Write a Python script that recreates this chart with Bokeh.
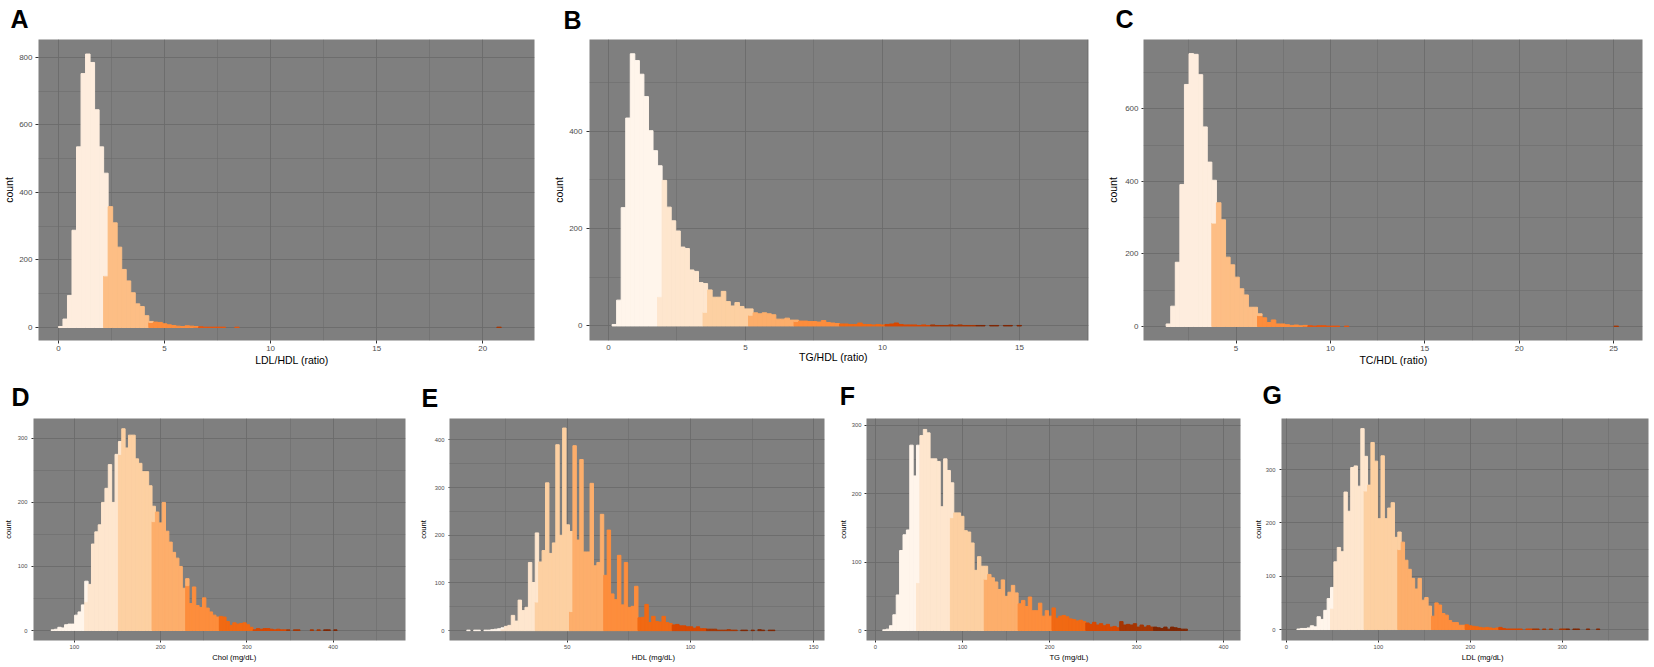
from bokeh.plotting import figure
from bokeh.models import ColumnDataSource, FixedTicker, Range1d, Title
from bokeh.layouts import row, column
from bokeh.embed import file_html
from bokeh.resources import INLINE

FONT = "Liberation Sans"
ORANGES9 = ["#FFF5EB", "#FEE6CE", "#FDD0A2", "#FDAE6B", "#FD8D3C",
            "#F16913", "#D94801", "#A63603", "#7F2704"]
ORANGES5 = ["#FEEDDE", "#FDBE85", "#FD8D3C", "#E6550D", "#A63603"]

# ---------------- A : LDL/HDL ----------------
A_title = "LDL/HDL (ratio)"
A_bin_lo, A_bin_w = 0.0, 0.213
A_counts = [3, 25, 95, 288, 535, 752, 810, 785, 645, 535,
            457, 358, 310, 238, 172, 138, 103, 70, 62, 35,
            18, 16, 15, 11, 8, 6, 4, 3, 5, 4,
            3, 2, 1, 1, 1, 1, 1, 0, 0, 1,
            0, 0, 0, 0, 0, 0, 0, 0, 0, 0,
            0, 0, 0, 0, 0, 0, 0, 0, 0, 0,
            0, 0, 0, 0, 0, 0, 0, 0, 0, 0,
            0, 0, 0, 0, 0, 0, 0, 0, 0, 0,
            0, 0, 0, 0, 0, 0, 0, 0, 0, 0,
            0, 0, 0, 0, 0, 0, 0, 1, 0, 0]
A_group_start = [10, 20, 30, 89]
A_group_share = [153, 15, 1, 0]
A_xticks, A_xminor = [0, 5, 10, 15, 20], [2.5, 7.5, 12.5, 17.5]
A_yticks, A_yminor = [0, 200, 400, 600, 800], [100, 300, 500, 700]

# ---------------- B : TG/HDL ----------------
B_title = "TG/HDL (ratio)"
B_bin_lo, B_bin_w = 0.134, 0.166
B_counts = [3, 53, 243, 427, 559, 545, 517, 471, 401, 360,
            329, 299, 244, 216, 195, 162, 159, 115, 112, 89,
            87, 74, 59, 59, 71, 50, 41, 48, 40, 35,
            35, 27, 25, 27, 25, 23, 14, 14, 16, 12,
            12, 10, 10, 9, 9, 8, 11, 7, 6, 5,
            4, 4, 3, 3, 6, 3, 3, 2, 3, 2,
            3, 4, 6, 3, 2, 2, 2, 1, 2, 1,
            2, 1, 1, 1, 2, 1, 2, 1, 1, 1,
            1, 1, 0, 1, 1, 0, 1, 1, 0, 1]
B_group_start = [10, 20, 30, 40, 50, 60, 70, 80]
B_group_share = [60, 28, 22, 9, 4, 3, 2, 1]
B_xticks, B_xminor = [0, 5, 10, 15], [2.5, 7.5, 12.5, 17.5]
B_yticks, B_yminor = [0, 200, 400], [100, 300, 500]

# ---------------- C : TC/HDL ----------------
C_title = "TC/HDL (ratio)"
C_bin_lo, C_bin_w = 1.30, 0.242
C_counts = [7, 56, 177, 391, 667, 752, 750, 694, 550, 453,
            403, 341, 294, 191, 170, 136, 104, 87, 53, 53,
            35, 24, 11, 18, 7, 7, 5, 3, 4, 2,
            3, 2, 1, 2, 2, 1, 1, 1, 0, 1,
            0, 0, 0, 0, 0, 0, 0, 0, 0, 0,
            0, 0, 0, 0, 0, 0, 0, 0, 0, 0,
            0, 0, 0, 0, 0, 0, 0, 0, 0, 0,
            0, 0, 0, 0, 0, 0, 0, 0, 0, 0,
            0, 0, 0, 0, 0, 0, 0, 0, 0, 0,
            0, 0, 0, 0, 0, 0, 0, 0, 1, 0]
C_group_start = [10, 20, 30, 89]
C_group_share = [285, 30, 1, 0]
C_xticks, C_xminor = [5, 10, 15, 20, 25], [2.5, 7.5, 12.5, 17.5, 22.5]
C_yticks, C_yminor = [0, 200, 400, 600], [100, 300, 500, 700]

# ---------------- D : Chol ----------------
D_title = "Chol (mg/dL)"
D_bin_lo, D_bin_w = 73.0, 3.9
D_counts = [1, 2, 5, 4, 9, 10, 10, 24, 29, 40,
            77, 72, 135, 154, 165, 200, 222, 259, 200, 275,
            295, 315, 285, 305, 305, 268, 261, 248, 248, 226,
            194, 185, 168, 200, 155, 138, 122, 113, 100, 66,
            81, 42, 68, 39, 36, 51, 35, 29, 24, 21,
            22, 21, 14, 8, 12, 10, 11, 12, 9, 5,
            1, 3, 2, 3, 3, 2, 1, 2, 1, 1,
            1, 0, 1, 1, 0, 0, 0, 1, 0, 1,
            0, 1, 1, 0, 1, 0, 0, 0, 0, 0]
D_group_start = [10, 20, 30, 40, 50, 60, 70, 80]
D_group_share = [45, 275, 170, 70, 22, 1, 1, 0]
D_xticks, D_xminor = [100, 200, 300, 400], [150, 250, 350, 450]
D_yticks, D_yminor = [0, 100, 200, 300], [50, 150, 250]

# ---------------- E : HDL ----------------
E_title = "HDL (mg/dL)"
E_bin_lo, E_bin_w = 9.2, 1.39
E_counts = [1, 0, 1, 1, 0, 1, 1, 2, 3, 4,
            6, 9, 11, 32, 20, 64, 42, 49, 143, 101,
            205, 144, 168, 310, 162, 184, 390, 200, 425, 222,
            208, 388, 190, 359, 165, 165, 309, 136, 143, 244,
            116, 211, 77, 65, 158, 54, 143, 49, 51, 93,
            27, 28, 55, 17, 30, 19, 18, 30, 17, 15,
            12, 13, 10, 10, 8, 8, 5, 8, 4, 4,
            3, 3, 3, 1, 1, 1, 2, 1, 1, 0,
            1, 1, 0, 1, 0, 2, 1, 0, 1, 1]
E_group_start = [10, 20, 30, 40, 50, 60, 70, 80]
E_group_share = [4, 60, 40, 116, 27, 12, 3, 1]
E_xticks, E_xminor = [50, 100, 150], [25, 75, 125]
E_yticks, E_yminor = [0, 100, 200, 300, 400], [50, 150, 250, 350]

# ---------------- F : TG ----------------
F_title = "TG (mg/dL)"
F_bin_lo, F_bin_w = 8.3, 3.89
F_counts = [1, 2, 7, 23, 52, 117, 140, 147, 271, 226,
            271, 285, 294, 289, 251, 251, 247, 181, 251, 234,
            216, 172, 172, 167, 146, 144, 128, 88, 108, 94,
            94, 82, 77, 71, 60, 74, 50, 56, 66, 55,
            39, 44, 35, 49, 29, 29, 40, 21, 29, 21,
            33, 18, 21, 22, 20, 17, 16, 14, 15, 13,
            11, 9, 12, 8, 10, 7, 9, 5, 6, 4,
            13, 8, 9, 8, 10, 5, 8, 5, 7, 5,
            5, 4, 3, 5, 2, 5, 4, 3, 2, 2]
F_group_start = [10, 20, 30, 40, 50, 60, 70, 80]
F_group_share = [70, 165, 75, 39, 33, 11, 13, 5]
F_xticks, F_xminor = [0, 100, 200, 300, 400], [50, 150, 250, 350]
F_yticks, F_yminor = [0, 100, 200, 300], [50, 150, 250]

# ---------------- G : LDL ----------------
G_title = "LDL (mg/dL)"
G_bin_lo, G_bin_w = 11.4, 3.66
G_counts = [1, 2, 2, 3, 7, 5, 24, 19, 36, 58,
            79, 127, 154, 146, 258, 222, 304, 307, 269, 377,
            325, 271, 351, 316, 208, 326, 208, 228, 238, 173,
            183, 164, 130, 113, 96, 76, 96, 55, 60, 44,
            25, 50, 46, 30, 27, 17, 13, 13, 8, 8,
            9, 7, 6, 5, 4, 3, 4, 3, 2, 3,
            4, 2, 1, 1, 1, 1, 1, 0, 1, 1,
            1, 1, 0, 1, 0, 1, 0, 0, 1, 1,
            1, 0, 1, 1, 0, 0, 1, 0, 0, 1]
G_group_start = [10, 20, 30, 40, 50, 60, 70, 80]
G_group_share = [40, 260, 150, 25, 9, 4, 1, 1]
G_xticks, G_xminor = [0, 100, 200, 300], [50, 150, 250, 350]
G_yticks, G_yminor = [0, 100, 200, 300], [50, 150, 250, 350]

TOP = dict(tick_font="8px", title_font="10.5px", letter_font="25px")
BOT = dict(tick_font="5.8px", title_font="7.6px", letter_font="25px")


def build(letter, title, counts, lo, bw, starts, shares, colors,
          xticks, xminor, yticks, yminor, g, style):
    left, right, bottom, top, fill = [], [], [], [], []

    def add(x0, x1, y0, y1, c):
        left.append(x0); right.append(x1); bottom.append(y0); top.append(y1); fill.append(c)

    for i, c in enumerate(counts):
        if c <= 0:
            continue
        grp = sum(1 for s in starts if i >= s)
        if grp >= len(colors):
            continue
        x0 = lo + i * bw
        x1 = x0 + bw
        if grp > 0 and i == starts[grp - 1] and 0 <= shares[grp - 1] < c:
            s = shares[grp - 1]
            if s > 0:
                add(x0, x1, 0, s, colors[grp])
            add(x0, x1, s, c, colors[grp - 1])
        else:
            add(x0, x1, 0, c, colors[grp])

    src = ColumnDataSource(dict(left=left, right=right, bottom=bottom, top=top, color=fill))

    p = figure(width=g["w"], height=g["h"], output_backend="svg",
               toolbar_location=None, title=None,
               x_range=Range1d(*g["xr"]), y_range=Range1d(*g["yr"]),
               min_border_left=g["l"], min_border_right=g["r"],
               min_border_top=g["t"], min_border_bottom=g["b"])
    p.background_fill_color = "#7F7F7F"
    p.border_fill_color = "white"
    p.outline_line_color = None

    xt = FixedTicker(ticks=xticks, minor_ticks=xminor)
    yt = FixedTicker(ticks=yticks, minor_ticks=yminor)
    p.xaxis.ticker = xt
    p.yaxis.ticker = yt
    p.xgrid.ticker = xt
    p.ygrid.ticker = yt
    for gr in (p.xgrid, p.ygrid):
        gr.grid_line_color = "#6B6B6B"
        gr.grid_line_width = 0.9
        gr.minor_grid_line_color = "#6B6B6B"
        gr.minor_grid_line_width = 0.5

    for ax in (p.xaxis[0], p.yaxis[0]):
        ax.axis_line_color = None
        ax.minor_tick_line_color = None
        ax.major_tick_in = 0
        ax.major_tick_line_color = "#333333"
        ax.major_label_text_color = "#4D4D4D"
        ax.major_label_text_font = FONT
        ax.major_label_text_font_size = style["tick_font"]
    xa, ya = p.xaxis[0], p.yaxis[0]
    xa.major_tick_out, xa.major_label_standoff = g["xtick"]
    ya.major_tick_out, ya.major_label_standoff = g["ytick"]

    ya.axis_label = "count"
    ya.axis_label_text_font = FONT
    ya.axis_label_text_font_style = "normal"
    ya.axis_label_text_font_size = style["title_font"]
    ya.axis_label_text_color = "black"
    ya.axis_label_standoff = g["count_stand"]

    p.quad(left="left", right="right", bottom="bottom", top="top",
           fill_color="color", line_color="color", line_width=1, source=src)

    p.add_layout(Title(text=letter, align="left", vertical_align="top",
                       offset=g["letter_off"], standoff=g["letter_stand"],
                       text_font=FONT, text_font_style="bold",
                       text_font_size=style["letter_font"], text_color="black"), "above")
    p.add_layout(Title(text=title, align="left", vertical_align="top",
                       offset=g["title_off"], standoff=g["title_stand"],
                       text_font=FONT, text_font_style="normal",
                       text_font_size=style["title_font"], text_color="black"), "below")
    return p


pA = build("A", A_title, A_counts, A_bin_lo, A_bin_w, A_group_start, A_group_share, ORANGES5,
           A_xticks, A_xminor, A_yticks, A_yminor,
           dict(w=547, h=372, l=35, r=13, t=39, b=32, xr=(-0.94, 22.44), yr=(-38.5, 853),
                xtick=(3, 1), ytick=(3, 2), count_stand=1,
                letter_off=-28, letter_stand=9, title_off=216.7, title_stand=0.6), TOP)
pB = build("B", B_title, B_counts, B_bin_lo, B_bin_w, B_group_start, B_group_share, ORANGES9,
           B_xticks, B_xminor, B_yticks, B_yminor,
           dict(w=553, h=372, l=42, r=12, t=38, b=32, xr=(-0.69, 17.52), yr=(-29.9, 588.3),
                xtick=(0, 0), ytick=(3, 3), count_stand=1,
                letter_off=-26, letter_stand=8, title_off=209.6, title_stand=-2.8), TOP)
pC = build("C", C_title, C_counts, C_bin_lo, C_bin_w, C_group_start, C_group_share, ORANGES5,
           C_xticks, C_xminor, C_yticks, C_yminor,
           dict(w=554, h=372, l=43, r=12, t=39, b=32, xr=(0.1, 26.53), yr=(-38.6, 790.9),
                xtick=(3, 1), ytick=(2, 1), count_stand=3,
                letter_off=-28, letter_stand=9, title_off=215.9, title_stand=0.6), TOP)

pD = build("D", D_title, D_counts, D_bin_lo, D_bin_w, D_group_start, D_group_share, ORANGES9,
           D_xticks, D_xminor, D_yticks, D_yminor,
           dict(w=415, h=295, l=32, r=10, t=46, b=27, xr=(52.6, 483.8), yr=(-15.6, 331),
                xtick=(2, 0), ytick=(2, 2), count_stand=2,
                letter_off=-22, letter_stand=11.2, title_off=178.8, title_stand=2.8), BOT)
pE = build("E", E_title, E_counts, E_bin_lo, E_bin_w, E_group_start, E_group_share, ORANGES9,
           E_xticks, E_xminor, E_yticks, E_yminor,
           dict(w=420, h=295, l=30, r=11, t=45, b=25, xr=(2.2, 154.4), yr=(-20.7, 445),
                xtick=(2, 0), ytick=(1, 1), count_stand=4,
                letter_off=-28, letter_stand=9.2, title_off=182.3, title_stand=2.8), BOT)
pF = build("F", F_title, F_counts, F_bin_lo, F_bin_w, F_group_start, F_group_share, ORANGES9,
           F_xticks, F_xminor, F_yticks, F_yminor,
           dict(w=415, h=295, l=29, r=10, t=46, b=26, xr=(-10.3, 419.4), yr=(-14.6, 310),
                xtick=(2, 0), ytick=(2, 1), count_stand=1,
                letter_off=-26.7, letter_stand=13.2, title_off=182.9, title_stand=2.8), BOT)
pG = build("G", G_title, G_counts, G_bin_lo, G_bin_w, G_group_start, G_group_share, ORANGES9,
           G_xticks, G_xminor, G_yticks, G_yminor,
           dict(w=404, h=295, l=24, r=6, t=46, b=27, xr=(-5.3, 393.8), yr=(-20.6, 396),
                xtick=(2, 0), ytick=(2, 2), count_stand=0,
                letter_off=-19, letter_stand=14.8, title_off=180.2, title_stand=2.8), BOT)

layout = column(row(pA, pB, pC), row(pD, pE, pF, pG))
open("out.html", "w").write(file_html(layout, INLINE))
